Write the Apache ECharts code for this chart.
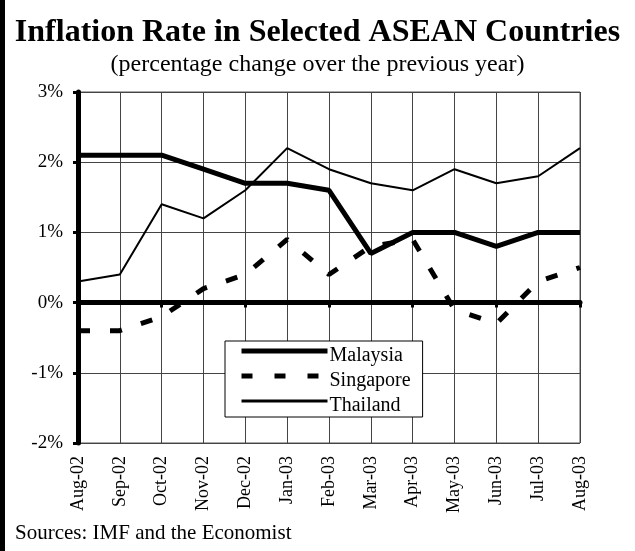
<!DOCTYPE html>
<html><head><meta charset="utf-8">
<script src="https://cdn.jsdelivr.net/npm/echarts@6/dist/echarts.min.js"></script>
<style>html,body{margin:0;padding:0;background:#fff}#c{width:635px;height:551px}</style>
</head><body><div id="c"></div>
<script>
const categories = ['Aug-02','Sep-02','Oct-02','Nov-02','Dec-02','Jan-03','Feb-03','Mar-03','Apr-03','May-03','Jun-03','Jul-03','Aug-03'];
const malaysia = [2.1,2.1,2.1,1.9,1.7,1.7,1.6,0.7,1.0,1.0,0.8,1.0,1.0];
const singapore = [-0.4,-0.4,-0.2,0.2,0.4,0.9,0.4,0.8,0.9,-0.1,-0.3,0.3,0.5];
const thailand = [0.3,0.4,1.4,1.2,1.6,2.2,1.9,1.7,1.6,1.9,1.7,1.8,2.2];
const yTicks = [-2,-1,0,1,2,3];

const font = 'Liberation Serif, Times New Roman, serif';
const chart = echarts.init(document.getElementById('c'), null, {renderer:'canvas'});
const gridTop = 92, gridBottom = 108;
const plotH = 551 - gridTop - gridBottom;
const zeroOffset = plotH * (0 - yTicks[0]) / (yTicks[yTicks.length-1] - yTicks[0]);
chart.setOption({
  animation: false,
  backgroundColor: '#fff',
  textStyle: {fontFamily: font},
  title: [{
    text: 'Inflation Rate in Selected ASEAN Countries',
    subtext: '(percentage change over the previous year)',
    left: 'center', top: 12, itemGap: 4, padding: [5, 0, 5, 12],
    textStyle: {fontFamily: font, fontWeight: 'bold', fontSize: 32, color: '#000'},
    subtextStyle: {fontFamily: font, fontSize: 24, color: '#000'}
  }],
  graphic: [
    {type:'rect', shape:{x:0,y:0,width:5,height:551}, style:{fill:'#000'}},
    {type:'text', left: 15, top: 523, style:{text:'Sources: IMF and the Economist', font:'21px ' + font, fill:'#000'}}
  ],
  legend: {
    orient: 'vertical', left: 225, top: 341,
    itemWidth: 86, itemHeight: 20, itemGap: 0,
    backgroundColor: '#fff', borderColor: '#000', borderWidth: 1,
    padding: [0, 12, 1, 14],
    itemStyle: {opacity: 0},
    formatter: '{a|{name}}',
    textStyle: {fontFamily: font, fontSize: 20, color: '#000',
      rich: {a: {fontFamily: font, fontSize: 20, color: '#000', height: 10, lineHeight: 10, padding: [10, 0, 0, -3]}}},
    data: [
      {name: 'Malaysia', lineStyle: {width: 5, color: '#000'}},
      {name: 'Singapore', lineStyle: {width: 5, color: '#000', type: [11, 22]}},
      {name: 'Thailand', lineStyle: {width: 3, color: '#000'}}
    ]
  },
  grid: {left: 78, right: 55, top: gridTop, bottom: gridBottom, show: true, borderColor: '#555', borderWidth: 1},
  xAxis: [{
    type: 'category', data: categories, boundaryGap: false,
    axisLine: {show: true, lineStyle: {color: '#555', width: 1}},
    axisTick: {show: false},
    axisLabel: {rotate: 90, fontSize: 18, color: '#000', fontFamily: font, margin: 13, interval: 0},
    splitLine: {show: true, lineStyle: {color: '#444', width: 1}}
  },{
    type: 'category', data: categories, boundaryGap: false, position: 'bottom', offset: -zeroOffset,
    axisLine: {show: true, onZero: false, lineStyle: {color: '#000', width: 5}},
    axisTick: {show: true, inside: false, length: 5, lineStyle: {color: '#000', width: 3}},
    axisLabel: {show: false}, splitLine: {show: false}
  }],
  yAxis: {
    type: 'value', min: -2, max: 3, interval: 1,
    axisLine: {show: true, lineStyle: {color: '#000', width: 5}},
    axisTick: {show: true, length: 5, lineStyle: {color: '#000', width: 3}},
    axisLabel: {formatter: v => v + '%', fontSize: 19, color: '#000', fontFamily: font, margin: 15},
    splitLine: {show: true, lineStyle: {color: '#444', width: 1}}
  },
  series: [
    {name:'Malaysia', type:'line', data: malaysia, symbol:'none', lineStyle:{color:'#000', width:5}, itemStyle:{color:'#000'}, z: 5},
    {name:'Singapore', type:'line', data: singapore, symbol:'none', lineStyle:{color:'#000', width:5, type:[12,20]}, itemStyle:{color:'#000'}, z: 4},
    {name:'Thailand', type:'line', data: thailand, symbol:'none', lineStyle:{color:'#000', width:2}, itemStyle:{color:'#000'}, z: 3}
  ]
});
</script></body></html>
